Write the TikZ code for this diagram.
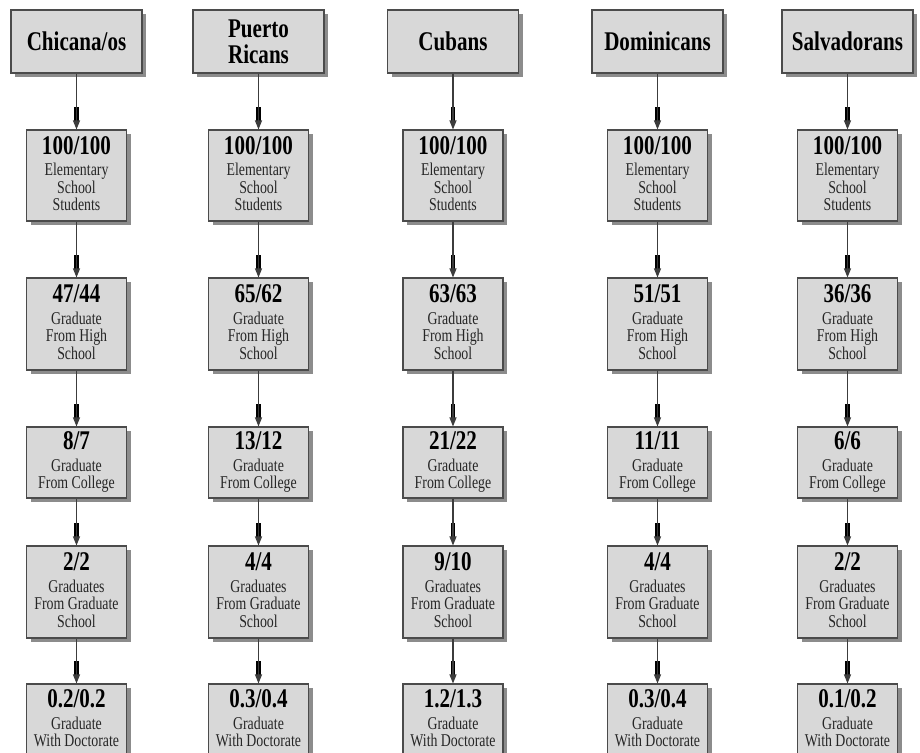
\documentclass[tikz,border=0pt]{standalone}
\usepackage{fontspec}
\setmainfont{Liberation Serif}
\newfontfamily\hdfamily[FakeStretch=0.78]{Liberation Serif Bold}
\newfontfamily\smfamily[FakeStretch=0.77]{Liberation Serif}
\usetikzlibrary{arrows.meta,shadows}
\newcommand\numf{\hdfamily\fontsize{27}{27}\selectfont}
\newcommand\smf{\smfamily\fontsize{18}{17.5}\selectfont}
\definecolor{boxfill}{RGB}{216,216,216}
\definecolor{boxline}{RGB}{75,75,75}
\definecolor{shad}{RGB}{140,140,140}
\definecolor{conncol}{RGB}{60,60,60}
\tikzset{
  boxbase/.style={draw=boxline, line width=1.1pt, fill=boxfill, inner sep=0pt, align=center,
    drop shadow={shadow xshift=4pt, shadow yshift=-4pt, fill=shad, opacity=1}},
  hd/.style={boxbase, minimum width=131pt, minimum height=63pt, font=\numf},
  bx/.style={boxbase, minimum width=100pt, font=\smf, text=black!85},
  conn/.style={draw=conncol, line width=1.1pt, -{Triangle[length=9pt,width=7pt]}},
  connbar/.style={draw=black, line width=4.5pt}
}
\newcommand\stepbox[5]{% name, x, y, height, text
  \node[bx, minimum height=#4pt] (#1) at (#2,#3) {#5};}
\newcommand\mkcol[8]{%
  \node[hd] (h#1) at (#2,41.5) {#3};
  \stepbox{a#1}{#2}{175.5}{91}{\textcolor{black}{\numf #4}\\[4pt]Elementary\\School\\Students\rule[-4pt]{0pt}{4pt}}
  \stepbox{b#1}{#2}{324}{92}{\textcolor{black}{\numf #5}\\[4pt]Graduate\\From High\\School\rule[-4pt]{0pt}{4pt}}
  \stepbox{c#1}{#2}{462.5}{71}{\textcolor{black}{\numf #6}\\[4pt]Graduate\\From College\rule[-4pt]{0pt}{4pt}}
  \stepbox{d#1}{#2}{592}{92}{\textcolor{black}{\numf #7}\\[4pt]Graduates\\From Graduate\\School\rule[-4pt]{0pt}{4pt}}
  \stepbox{e#1}{#2}{720.5}{73}{\textcolor{black}{\numf #8}\\[4pt]Graduate\\With Doctorate\rule[-4pt]{0pt}{4pt}}
  \foreach \p/\q in {h/a,a/b,b/c,c/d,d/e}{
    \draw[connbar] ([yshift=22pt]\q#1.north) -- ([yshift=8pt]\q#1.north);
    \draw[conn] (\p#1.south) -- (\q#1.north);
  }
}
\begin{document}
\begin{tikzpicture}[x=1pt,y=-1pt]
\useasboundingbox (0,0) rectangle (920,752);
\mkcol{1}{76.5}{Chicana/os}{100/100}{47/44}{8/7}{2/2}{0.2/0.2}
\mkcol{2}{258.5}{Puerto\\[-1pt]Ricans}{100/100}{65/62}{13/12}{4/4}{0.3/0.4}
\mkcol{3}{453}{Cubans}{100/100}{63/63}{21/22}{9/10}{1.2/1.3}
\mkcol{4}{657.5}{Dominicans}{100/100}{51/51}{11/11}{4/4}{0.3/0.4}
\mkcol{5}{847.5}{Salvadorans}{100/100}{36/36}{6/6}{2/2}{0.1/0.2}
\end{tikzpicture}
\end{document}
